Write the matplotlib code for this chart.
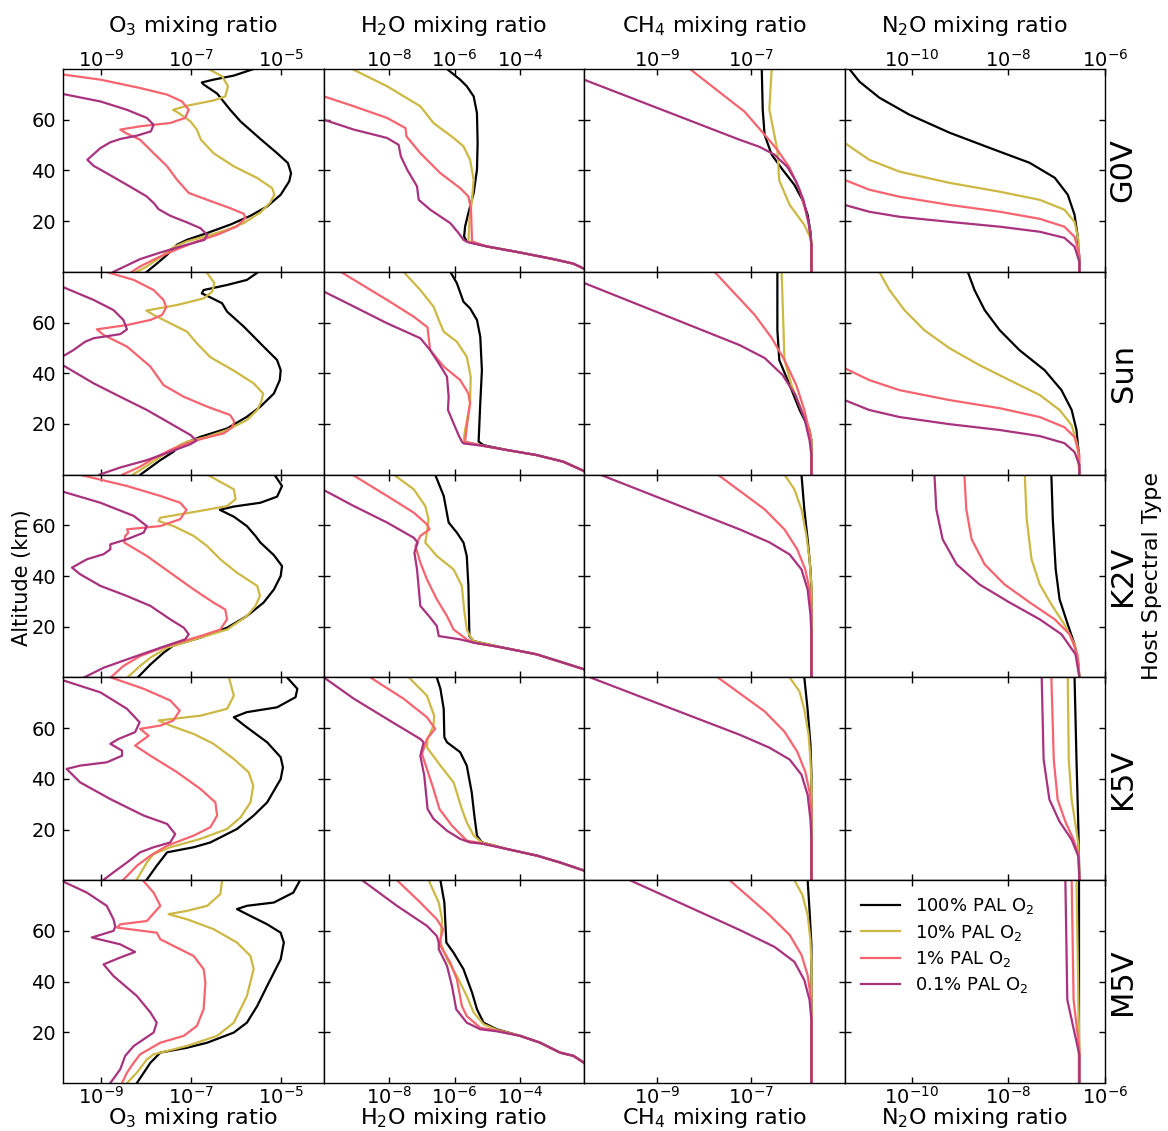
import numpy as np
import matplotlib
matplotlib.use('Agg')
import matplotlib.pyplot as plt
from matplotlib.ticker import FixedLocator, NullLocator, LogFormatterSciNotation

stars = ['G0V', 'Sun', 'K2V', 'K5V', 'M5V']
species = ['O$_3$', 'H$_2$O', 'CH$_4$', 'N$_2$O']
labels = ['100% PAL O$_2$', '10% PAL O$_2$', '1% PAL O$_2$', '0.1% PAL O$_2$']
colors = ['#000000', '#CDB843', '#F7636E', '#A8327E']
xlims_log = [(-9.84, -4.06), (-9.98, -2.07), (-10.54, -5.03), (-11.39, -6.0)]
xticks_log = [[-9, -7, -5], [-8, -6, -4], [-9, -7], [-10, -8, -6]]
yticks = [20, 40, 60]

# each profile: list of (altitude km, log10 mixing ratio); order 100%, 10%, 1%, 0.1% PAL
O3_G0V = [
    [(80,-5.61),(77.4,-6.05),(75.8,-6.50),(74.7,-6.76),(73.9,-6.72),(70.3,-6.42),(63.9,-6.13),(59.3,-5.90),(52.4,-5.46),(46.8,-5.09),(42.9,-4.85),(38.9,-4.78),(35.7,-4.82),(30.4,-5.01),(25.8,-5.31),(22.1,-5.68),(18.6,-6.13),(15.3,-6.64),(12.6,-7.09),(10.7,-7.31),(6.7,-7.53),(3.2,-7.76),(0,-7.98)],
    [(80,-6.61),(77.1,-6.31),(73.2,-6.18),(69.2,-6.24),(67.6,-6.50),(65.5,-7.09),(63.9,-7.40),(62.6,-7.27),(59.3,-7.01),(56.1,-6.87),(52.1,-6.78),(46.8,-6.50),(41.6,-6.05),(37.0,-5.53),(33.0,-5.20),(30.4,-5.15),(27.4,-5.24),(23.4,-5.46),(19.2,-5.83),(16.6,-6.20),(14.2,-6.64),(12.0,-7.09),(9.7,-7.39),(5.8,-7.68),(2.1,-7.98),(0,-8.20)],
    [(80,-10.1),(77.8,-9.83),(75.8,-9.01),(72.5,-8.13),(69.9,-7.53),(67.2,-7.20),(63.9,-7.05),(60.7,-7.13),(58.7,-7.46),(57.4,-8.13),(56.1,-8.57),(54.5,-8.42),(52.1,-8.13),(46.8,-7.83),(41.6,-7.53),(36.3,-7.31),(31.1,-7.05),(28.4,-6.64),(25.1,-6.13),(22.9,-5.83),(21.2,-5.79),(17.9,-5.98),(14.6,-6.42),(12.0,-6.87),(8.9,-7.31),(5.4,-7.76),(2.1,-8.13),(0,-8.31)],
    [(72.5,-10.3),(70.1,-9.83),(67.2,-9.01),(63.9,-8.42),(60.7,-7.98),(58.0,-7.83),(55.4,-7.89),(53.7,-8.20),(52.4,-8.57),(51.1,-8.79),(48.8,-9.01),(44.2,-9.30),(41.8,-9.16),(38.9,-8.87),(34.3,-8.42),(29.7,-7.98),(26.8,-7.81),(24.7,-7.72),(22.1,-7.46),(19.5,-7.09),(17.2,-6.79),(14.6,-6.64),(12.6,-6.70),(10.7,-7.09),(7.6,-7.68),(5.0,-8.13),(0,-8.72)],
]
O3_Sun = [
    [(80,-5.50),(76.8,-5.76),(74.8,-6.20),(72.8,-6.72),(71.5,-6.76),(69.9,-6.57),(67.6,-6.31),(64.3,-6.20),(58.4,-5.83),(50.5,-5.39),(45.2,-5.09),(41.2,-5.01),(37.3,-5.03),(32.0,-5.16),(26.8,-5.46),(22.8,-5.76),(18.2,-6.20),(14.9,-6.79),(11.6,-7.24),(9.0,-7.39),(5.7,-7.68),(0,-8.12)],
    [(80,-6.66),(75.5,-6.48),(72.2,-6.53),(69.5,-6.72),(66.9,-7.31),(64.7,-7.99),(63.0,-7.83),(59.7,-7.46),(56.4,-7.09),(51.8,-6.87),(46.3,-6.57),(41.0,-6.05),(36.0,-5.61),(32.0,-5.40),(28.8,-5.44),(25.5,-5.53),(21.5,-5.76),(17.6,-6.20),(14.9,-6.64),(13.0,-7.09),(10.3,-7.39),(7.0,-7.68),(3.1,-8.01),(0,-8.29)],
    [(80,-8.89),(76.8,-8.27),(72.8,-7.83),(68.9,-7.61),(66.0,-7.55),(63.0,-7.64),(61.0,-7.90),(59.0,-8.42),(57.3,-9.09),(55.1,-8.94),(50.5,-8.42),(42.6,-7.90),(35.3,-7.61),(30.7,-7.16),(26.8,-6.64),(23.5,-6.13),(20.9,-6.04),(18.6,-6.09),(16.3,-6.27),(14.3,-6.72),(12.3,-7.09),(9.7,-7.46),(6.4,-7.83),(3.1,-8.13),(0,-8.52)],
    [(77,-10.4),(73.9,-9.83),(68.9,-9.16),(64.9,-8.72),(61.0,-8.50),(57.3,-8.42),(55.4,-8.57),(53.8,-9.16),(52.4,-9.35),(49.1,-9.61),(46.8,-9.83),(45,-10.05),(43.0,-9.83),(36.0,-9.16),(30.7,-8.57),(25.5,-7.98),(20.2,-7.46),(15.6,-7.01),(13.4,-6.88),(12.0,-7.01),(9.0,-7.46),(5.7,-7.98),(2.8,-8.57),(0,-9.03)],
]
O3_K2V = [
    [(80,-5.15),(75.5,-4.98),(71.3,-5.09),(68.9,-5.46),(67.4,-6.05),(66.1,-6.36),(63.4,-6.05),(59.7,-5.76),(55.8,-5.57),(53.2,-5.46),(48.2,-5.16),(43.9,-4.98),(40.0,-5.01),(34.7,-5.16),(29.5,-5.39),(24.2,-5.76),(19.6,-6.20),(15.7,-6.79),(12.6,-7.39),(9.7,-7.61),(5.1,-7.90),(0,-8.18)],
    [(80,-6.64),(74.2,-6.05),(70.3,-6.01),(67.6,-6.20),(65.7,-6.79),(63.0,-7.68),(61.7,-7.72),(59.7,-7.39),(55.8,-6.94),(51.8,-6.64),(46.6,-6.35),(41.3,-5.98),(36.1,-5.53),(32.1,-5.47),(28.2,-5.57),(24.2,-5.76),(18.9,-6.20),(15.7,-6.79),(11.7,-7.53),(7.8,-7.90),(4.5,-8.13),(0,-8.41)],
    [(80,-9.48),(75.5,-8.42),(71.6,-7.68),(68.9,-7.24),(66.1,-7.10),(62.4,-7.24),(59.7,-7.68),(58.4,-8.42),(57.1,-8.39),(55.8,-8.46),(53.2,-8.48),(47.9,-7.98),(41.3,-7.46),(34.7,-6.94),(29.5,-6.50),(26.8,-6.24),(22.9,-6.20),(18.9,-6.35),(16.3,-6.79),(12.4,-7.53),(8.4,-8.13),(4.5,-8.50),(0,-8.78)],
    [(76,-10.3),(73.2,-9.83),(68.9,-9.01),(63.7,-8.27),(59.7,-7.98),(57.1,-8.05),(54.5,-8.42),(52.5,-8.79),(50.5,-8.79),(48.6,-8.94),(46.6,-9.31),(43.3,-9.64),(40.7,-9.46),(36.1,-9.01),(32.1,-8.42),(28.2,-7.90),(22.9,-7.46),(19.6,-7.16),(17.0,-7.05),(15.0,-7.13),(11.7,-7.68),(7.1,-8.42),(3.8,-8.94),(0,-9.37)],
]
O3_K5V = [
    [(80,-4.87),(75.5,-4.64),(72.2,-4.68),(68.2,-5.09),(66.3,-5.76),(64.3,-6.05),(60.3,-5.76),(54.4,-5.31),(48.5,-5.01),(44.5,-4.96),(39.9,-5.01),(30.7,-5.31),(25.5,-5.61),(20.2,-5.98),(14.9,-6.57),(13.0,-6.94),(11.0,-7.53),(5.7,-7.76),(0,-7.99)],
    [(80,-6.16),(72.8,-6.05),(67.6,-6.20),(64.9,-6.79),(63.0,-7.72),(61.0,-7.46),(57.7,-6.94),(53.8,-6.50),(47.8,-6.05),(42.6,-5.72),(37.3,-5.62),(30.7,-5.68),(24.8,-5.90),(20.2,-6.20),(16.3,-6.79),(13.0,-7.46),(10.3,-7.83),(7.0,-7.98),(0,-8.21)],
    [(80,-8.78),(75.5,-8.05),(70.9,-7.46),(66.9,-7.25),(63.0,-7.39),(61.0,-7.68),(59.7,-8.13),(57.0,-7.94),(53.1,-8.24),(49.1,-7.90),(42.6,-7.31),(36.0,-6.79),(30.7,-6.46),(25.5,-6.42),(20.9,-6.57),(17.6,-6.94),(13.6,-7.53),(9.7,-7.90),(5.7,-8.20),(0,-8.51)],
    [(81,-10.1),(78.8,-9.83),(74.1,-9.01),(67.6,-8.42),(62.3,-8.14),(58.4,-8.24),(55.7,-8.61),(53.8,-8.79),(51.1,-8.53),(49.1,-8.53),(46.5,-8.87),(45.2,-9.46),(43.9,-9.76),(38.6,-9.46),(32.0,-8.79),(25.5,-8.05),(22.2,-7.53),(18.2,-7.35),(14.9,-7.46),(13.0,-7.83),(11.0,-8.13),(7.0,-8.42),(3.1,-8.72),(0,-8.95)],
]
O3_M5V = [
    [(80,-4.58),(75.1,-4.73),(71.2,-5.16),(69.9,-5.76),(68.6,-5.98),(66.6,-5.76),(62.6,-5.31),(59.3,-5.01),(55.4,-4.94),(48.8,-5.01),(38.3,-5.31),(30.4,-5.53),(23.8,-5.76),(19.9,-6.05),(15.9,-6.64),(13.9,-7.09),(12.0,-7.68),(8.0,-7.90),(0,-8.20)],
    [(80,-6.31),(74.5,-6.35),(69.9,-6.64),(67.9,-7.09),(66.6,-7.50),(64.6,-7.09),(60.7,-6.50),(55.4,-5.98),(50.1,-5.68),(44.9,-5.61),(34.3,-5.76),(23.8,-6.05),(18.6,-6.42),(14.6,-7.09),(11.3,-7.83),(9.3,-7.98),(4.1,-8.20),(0,-8.42)],
    [(80,-8.07),(75.1,-7.83),(69.9,-7.68),(63.9,-7.98),(62.6,-8.57),(61.3,-8.64),(59.3,-7.76),(56.7,-7.68),(54.1,-7.39),(50.1,-6.94),(44.9,-6.72),(39.6,-6.68),(29.1,-6.72),(22.5,-6.87),(18.6,-7.16),(15.9,-7.68),(11.3,-8.13),(8.0,-8.27),(4.1,-8.42),(0,-8.53)],
    [(80,-9.90),(75.1,-9.31),(69.9,-8.87),(64.6,-8.72),(61.7,-8.68),(60.0,-8.72),(57.4,-9.20),(54.7,-8.57),(51.7,-8.24),(49.5,-8.57),(46.8,-8.94),(42.2,-8.72),(34.3,-8.20),(27.8,-7.90),(23.8,-7.76),(19.9,-7.83),(14.6,-8.27),(10.7,-8.46),(5.4,-8.57),(0,-8.79)],
]

H2O_G0V = [
    [(80,-6.23),(75.8,-5.83),(73.2,-5.63),(69.2,-5.42),(62.6,-5.32),(50.8,-5.30),(40.3,-5.32),(31.1,-5.42),(23.2,-5.58),(17.9,-5.68),(13.9,-5.71),(12.0,-5.63),(10.0,-5.02),(7.6,-4.01),(5.0,-3.00),(3.2,-2.39),(1.2,-2.07),(0,-1.9)],
    [(80,-9.11),(73.2,-8.05),(65.3,-7.04),(58.7,-6.64),(52.8,-6.03),(49.5,-5.73),(44.2,-5.53),(36.3,-5.42),(28.4,-5.47),(20.5,-5.55),(12.0,-5.58),(10.0,-5.02),(7.6,-4.01),(5.0,-3.00),(3.2,-2.39),(1.2,-2.07),(0,-1.9)],
    [(76,-10.7),(69.2,-9.97),(65.3,-9.06),(60.7,-8.05),(56.7,-7.49),(53.4,-7.46),(46.8,-7.04),(38.9,-6.43),(33.0,-5.83),(29.7,-5.58),(24.5,-5.50),(12.0,-5.47),(10.0,-5.02),(7.6,-4.01),(5.0,-3.00),(3.2,-2.39),(1.2,-2.07),(0,-1.9)],
    [(66,-10.7),(60.0,-9.97),(56.1,-9.06),(52.8,-8.05),(50.1,-7.70),(45.5,-7.63),(40.3,-7.44),(33.7,-7.14),(28.4,-7.09),(24.5,-6.74),(19.2,-6.13),(15.3,-5.88),(12.6,-5.73),(11.6,-5.58),(10.0,-5.02),(7.6,-4.01),(5.0,-3.00),(3.2,-2.39),(1.2,-2.07),(0,-1.9)],
]
H2O_Sun = [
    [(80,-6.13),(75.5,-5.93),(68.2,-5.73),(65.6,-5.53),(61.0,-5.32),(54.4,-5.22),(41.2,-5.17),(28.1,-5.22),(13.0,-5.27),(11.6,-5.12),(9.7,-4.41),(7.7,-3.51),(5.1,-2.70),(1.4,-2.07),(0,-1.9)],
    [(80,-7.55),(72.8,-7.04),(66.3,-6.64),(61.0,-6.48),(56.4,-6.33),(52.4,-5.93),(46.5,-5.63),(38.6,-5.51),(28.1,-5.53),(17.6,-5.68),(13.0,-5.73),(11.3,-5.12),(9.7,-4.41),(7.7,-3.51),(5.1,-2.70),(1.4,-2.07),(0,-1.9)],
    [(80,-9.46),(68.9,-8.05),(62.3,-7.24),(58.1,-6.82),(54.4,-6.79),(49.1,-6.74),(42.6,-6.33),(37.3,-5.83),(32.0,-5.58),(28.1,-5.53),(18.9,-5.63),(13.0,-5.68),(11.3,-5.12),(9.7,-4.41),(7.7,-3.51),(5.1,-2.70),(1.4,-2.07),(0,-1.9)],
    [(76,-10.5),(72.2,-9.97),(66.3,-9.06),(59.7,-8.05),(53.8,-7.04),(49.1,-6.74),(43.9,-6.48),(38.6,-6.23),(30.7,-6.18),(25.5,-6.20),(20.2,-6.03),(15.6,-5.88),(13.0,-5.78),(12.3,-5.73),(11.3,-5.12),(9.7,-4.41),(7.7,-3.51),(5.1,-2.70),(1.4,-2.07),(0,-1.9)],
]
H2O_K2V = [
    [(80,-6.59),(71.6,-6.33),(61.1,-6.18),(57.1,-5.93),(53.2,-5.73),(47.9,-5.63),(36.1,-5.58),(16.3,-5.55),(14.3,-5.42),(11.7,-4.52),(9.1,-3.51),(5.8,-2.70),(3.2,-2.07),(0,-1.7)],
    [(80,-7.85),(74.2,-7.24),(67.6,-6.89),(62.4,-6.79),(57.1,-6.84),(53.2,-6.89),(47.9,-6.54),(42.6,-6.03),(36.1,-5.78),(26.8,-5.71),(18.9,-5.63),(16.3,-5.53),(14.3,-5.42),(11.7,-4.52),(9.1,-3.51),(5.8,-2.70),(3.2,-2.07),(0,-1.7)],
    [(80,-9.11),(71.6,-8.05),(65.0,-7.24),(60.4,-6.84),(58.4,-6.76),(55.8,-7.04),(51.8,-7.19),(45.3,-7.04),(38.7,-6.84),(30.8,-6.54),(24.2,-6.23),(18.9,-6.03),(15.0,-5.63),(13.7,-5.42),(11.7,-4.52),(9.1,-3.51),(5.8,-2.70),(3.2,-2.07),(0,-1.7)],
    [(77.5,-10.5),(73.9,-9.97),(67.6,-9.06),(61.1,-8.05),(55.1,-7.24),(53.2,-7.12),(49.2,-7.22),(42.6,-7.14),(28.2,-7.04),(23.6,-6.74),(20.3,-6.54),(16.3,-6.48),(15.0,-5.83),(13.7,-5.42),(11.7,-4.52),(9.1,-3.51),(5.8,-2.70),(3.2,-2.07),(0,-1.7)],
]
H2O_K5V = [
    [(80,-6.54),(75.5,-6.43),(67.6,-6.33),(56.4,-6.31),(54.4,-6.23),(50.5,-5.83),(45.2,-5.63),(34.7,-5.48),(25.5,-5.40),(17.6,-5.32),(14.9,-5.17),(12.3,-4.41),(9.7,-3.50),(7.0,-2.80),(3.8,-2.07),(0,-1.6)],
    [(80,-7.39),(72.8,-6.84),(64.9,-6.62),(61.0,-6.64),(55.7,-6.82),(52.4,-6.84),(45.2,-6.43),(38.6,-6.03),(28.1,-5.78),(22.8,-5.63),(17.6,-5.42),(14.9,-5.17),(12.3,-4.41),(9.7,-3.50),(7.0,-2.80),(3.8,-2.07),(0,-1.6)],
    [(80,-8.56),(71.6,-7.55),(64.3,-6.84),(59.7,-6.59),(55.7,-6.84),(49.8,-6.99),(43.9,-6.84),(36.0,-6.64),(28.1,-6.46),(21.5,-6.08),(15.6,-5.63),(14.6,-5.17),(12.3,-4.41),(9.7,-3.50),(7.0,-2.80),(3.8,-2.07),(0,-1.6)],
    [(80,-9.97),(71.6,-9.06),(63.6,-8.05),(55.7,-7.04),(54.4,-6.94),(49.1,-7.04),(41.2,-6.92),(28.1,-6.82),(24.2,-6.64),(19.5,-6.23),(16.3,-5.83),(14.9,-5.53),(14.4,-5.17),(12.3,-4.41),(9.7,-3.50),(7.0,-2.80),(3.8,-2.07),(0,-1.6)],
]
H2O_M5V = [
    [(80,-6.43),(71.2,-6.31),(63.3,-6.28),(55.4,-6.25),(51.4,-6.03),(44.9,-5.73),(35.7,-5.47),(29.1,-5.32),(23.8,-5.12),(21.2,-4.72),(18.6,-4.01),(15.9,-3.40),(12.0,-2.80),(10.7,-2.39),(8.0,-2.07),(0,-1.5)],
    [(80,-6.79),(71.2,-6.48),(64.6,-6.38),(55.4,-6.43),(48.8,-6.23),(42.2,-5.93),(34.3,-5.63),(27.8,-5.42),(23.2,-5.12),(21.0,-4.72),(18.6,-4.01),(15.9,-3.40),(12.0,-2.80),(10.7,-2.39),(8.0,-2.07),(0,-1.5)],
    [(80,-7.75),(71.2,-7.04),(64.6,-6.54),(60.7,-6.35),(56.7,-6.43),(54.1,-6.43),(47.5,-6.13),(40.9,-5.93),(30.4,-5.78),(26.4,-5.63),(21.8,-5.22),(20.7,-4.72),(18.6,-4.01),(15.9,-3.40),(12.0,-2.80),(10.7,-2.39),(8.0,-2.07),(0,-1.5)],
    [(80,-8.81),(69.9,-7.75),(62.0,-6.84),(58.0,-6.54),(55.4,-6.48),(52.8,-6.48),(46.2,-6.23),(38.3,-6.08),(29.1,-5.95),(23.8,-5.63),(21.2,-5.22),(20.4,-4.72),(18.6,-4.01),(15.9,-3.40),(12.0,-2.80),(10.7,-2.39),(8.0,-2.07),(0,-1.5)],
]

CH4_G0V = [
    [(80,-6.78),(64,-6.76),(54,-6.72),(46.2,-6.57),(40.3,-6.34),(34.3,-6.09),(28.4,-5.92),(22.5,-5.81),(15.8,-5.75),(10.7,-5.73),(0,-5.73)],
    [(80,-6.57),(64,-6.62),(48,-6.45),(36,-6.41),(26.4,-6.19),(18.5,-5.88),(12.6,-5.73),(0,-5.73)],
    [(80,-8.30),(63.1,-7.14),(54.1,-6.72),(48.1,-6.45),(41.0,-6.19),(32.4,-5.98),(24.5,-5.86),(17.4,-5.77),(10.7,-5.73),(0,-5.73)],
    [(80,-11.3),(75.8,-10.54),(52.1,-7.25),(49.3,-6.83),(46.2,-6.51),(41.4,-6.24),(35.5,-6.05),(28.4,-5.90),(19.7,-5.79),(10.7,-5.73),(0,-5.73)],
]
CH4_Sun = [
    [(80,-6.45),(57,-6.45),(45.2,-6.41),(35.3,-6.19),(25.5,-5.98),(17.6,-5.77),(13.6,-5.73),(0,-5.73)],
    [(80,-6.36),(57,-6.32),(45.2,-6.30),(35.3,-6.15),(25.5,-5.94),(17.6,-5.77),(13.6,-5.73),(0,-5.73)],
    [(80,-7.78),(63.0,-6.93),(53.9,-6.57),(45.2,-6.30),(35.3,-6.05),(25.5,-5.88),(16.8,-5.77),(10.5,-5.73),(0,-5.73)],
    [(80,-11.3),(75.6,-10.54),(51.1,-7.25),(46.0,-6.72),(39.3,-6.34),(31.4,-6.07),(22.3,-5.88),(13.6,-5.77),(7.7,-5.73),(0,-5.73)],
]
CH4_K2V = [
    [(80,-5.94),(66.3,-5.88),(54.5,-5.81),(42.6,-5.75),(34.7,-5.73),(0,-5.73)],
    [(80,-6.30),(74.2,-6.09),(66.3,-5.94),(56.4,-5.84),(46.6,-5.77),(36.7,-5.73),(0,-5.73)],
    [(80,-7.71),(66.3,-6.72),(58.4,-6.30),(50.5,-6.03),(42.6,-5.86),(34.7,-5.77),(26.8,-5.73),(0,-5.73)],
    [(80,-10.20),(58.4,-7.25),(53.3,-6.62),(48.5,-6.19),(42.6,-5.94),(34.7,-5.81),(24.9,-5.75),(17.0,-5.73),(0,-5.73)],
]
CH4_K5V = [
    [(80,-5.88),(67.3,-5.81),(53.5,-5.75),(41.6,-5.73),(0,-5.73)],
    [(80,-6.19),(74.4,-5.98),(67.3,-5.88),(57.4,-5.79),(47.6,-5.75),(37.7,-5.73),(0,-5.73)],
    [(80,-7.71),(66.6,-6.72),(58.6,-6.30),(50.7,-6.03),(42.8,-5.86),(34.9,-5.77),(27.0,-5.73),(0,-5.73)],
    [(80,-10.41),(57.4,-7.25),(52.3,-6.62),(47.6,-6.19),(41.6,-5.94),(33.7,-5.81),(23.9,-5.75),(16.0,-5.73),(0,-5.73)],
]
CH4_M5V = [
    [(80,-5.81),(68.3,-5.77),(54.5,-5.73),(0,-5.73)],
    [(80,-6.09),(74.2,-5.92),(66.3,-5.81),(56.4,-5.75),(46.6,-5.73),(0,-5.73)],
    [(80,-7.46),(66.3,-6.62),(58.4,-6.19),(50.5,-5.94),(42.6,-5.81),(34.7,-5.75),(26.8,-5.73),(0,-5.73)],
    [(80,-9.57),(60.4,-7.25),(53.7,-6.51),(47.8,-6.09),(40.6,-5.88),(32.8,-5.77),(24.9,-5.73),(0,-5.73)],
]

N2O_G0V = [
    [(80,-11.29),(75.0,-11.08),(68.7,-10.67),(62.0,-10.05),(54.9,-9.22),(48.9,-8.39),(43.0,-7.56),(37.1,-7.04),(30.4,-6.77),(22.5,-6.63),(14.6,-6.57),(4.7,-6.53),(0,-6.53)],
    [(56,-12.2),(50.9,-11.39),(44.2,-10.88),(39.5,-10.25),(35.1,-9.22),(31.6,-8.18),(28.4,-7.35),(24.5,-6.84),(19.7,-6.63),(12.6,-6.55),(0,-6.53)],
    [(41,-12.2),(36.3,-11.39),(32.4,-10.88),(29.6,-10.25),(26.4,-9.22),(23.7,-8.18),(20.9,-7.35),(17.8,-6.84),(13.8,-6.63),(6.7,-6.53),(0,-6.53)],
    [(30,-12.2),(26.4,-11.39),(23.7,-10.88),(21.7,-10.25),(19.7,-9.22),(17.8,-8.18),(15.8,-7.35),(13.4,-6.84),(9.9,-6.63),(3.9,-6.53),(0,-6.53)],
]
N2O_Sun = [
    [(80,-8.84),(72.8,-8.70),(64.9,-8.49),(57.0,-8.18),(49.1,-7.77),(41.2,-7.25),(33.3,-6.90),(25.5,-6.69),(17.6,-6.59),(9.7,-6.55),(0,-6.53)],
    [(80,-10.67),(72.8,-10.46),(64.9,-10.15),(57.0,-9.74),(49.9,-9.22),(43.2,-8.60),(37.3,-7.98),(31.4,-7.35),(25.5,-6.94),(19.5,-6.69),(11.6,-6.57),(0,-6.53)],
    [(47,-12.2),(42.0,-11.39),(37.3,-10.88),(33.3,-10.25),(29.4,-9.22),(26.2,-8.18),(22.7,-7.35),(18.7,-6.84),(14.8,-6.63),(7.7,-6.53),(0,-6.53)],
    [(33,-12.2),(29.4,-11.39),(25.5,-10.88),(22.7,-10.25),(19.9,-9.22),(17.6,-8.18),(15.2,-7.35),(12.4,-6.84),(8.9,-6.63),(3.7,-6.53),(0,-6.53)],
]
N2O_K2V = [
    [(80,-7.11),(62.4,-7.08),(42.6,-7.02),(30.8,-6.94),(20.9,-6.77),(13.0,-6.63),(5.1,-6.55),(0,-6.53)],
    [(80,-7.66),(62.4,-7.62),(46.6,-7.52),(36.7,-7.35),(28.8,-7.11),(20.9,-6.84),(13.0,-6.63),(6.3,-6.55),(0,-6.53)],
    [(80,-8.91),(66.3,-8.87),(54.5,-8.76),(44.6,-8.49),(36.7,-8.08),(29.6,-7.56),(22.9,-7.04),(17.0,-6.73),(9.1,-6.57),(0,-6.53)],
    [(80,-9.53),(66.3,-9.49),(54.5,-9.36),(44.6,-9.07),(36.7,-8.60),(29.6,-7.98),(22.9,-7.35),(17.0,-6.90),(9.1,-6.61),(0,-6.53)],
]
N2O_K5V = [
    [(80,-6.63),(47.6,-6.59),(20,-6.55),(0,-6.53)],
    [(80,-6.77),(47.6,-6.75),(31.8,-6.69),(21.9,-6.61),(14.0,-6.55),(0,-6.53)],
    [(80,-7.11),(47.6,-7.06),(31.8,-6.98),(23.1,-6.82),(16.0,-6.65),(10.1,-6.55),(0,-6.53)],
    [(80,-7.31),(47.6,-7.27),(31.8,-7.15),(23.1,-6.94),(16.0,-6.69),(9.3,-6.55),(0,-6.53)],
]
N2O_M5V = [
    [(80,-6.53),(0,-6.53)],
    [(80,-6.59),(32.8,-6.55),(13,-6.53),(0,-6.53)],
    [(80,-6.69),(32.8,-6.65),(13,-6.53),(0,-6.53)],
    [(80,-6.82),(32.8,-6.78),(11,-6.53),(0,-6.53)],
]

panels = [
    [O3_G0V, H2O_G0V, CH4_G0V, N2O_G0V],
    [O3_Sun, H2O_Sun, CH4_Sun, N2O_Sun],
    [O3_K2V, H2O_K2V, CH4_K2V, N2O_K2V],
    [O3_K5V, H2O_K5V, CH4_K5V, N2O_K5V],
    [O3_M5V, H2O_M5V, CH4_M5V, N2O_M5V],
]

W, H = 1168, 1131
fig, axes = plt.subplots(5, 4, figsize=(W / 100, H / 100), dpi=100)
fig.subplots_adjust(left=63 / W, right=1105 / W, top=1 - 69 / H, bottom=1 - 1083 / H,
                    wspace=0, hspace=0)

for r in range(5):
    for c in range(4):
        ax = axes[r, c]
        for k, prof in enumerate(panels[r][c]):
            z = np.array([p[0] for p in prof])
            lx = np.array([p[1] for p in prof])
            ax.plot(10.0 ** lx, z, color=colors[k], lw=1.6, label=labels[k],
                    solid_joinstyle='round')
        ax.set_xscale('log')
        ax.set_xlim(10 ** xlims_log[c][0], 10 ** xlims_log[c][1])
        ax.set_ylim(0, 80)
        ax.xaxis.set_major_locator(FixedLocator([10.0 ** t for t in xticks_log[c]]))
        ax.xaxis.set_minor_locator(NullLocator())
        ax.xaxis.set_major_formatter(LogFormatterSciNotation())
        ax.set_yticks(yticks)
        ax.tick_params(axis='both', which='major', direction='in', length=4, width=1,
                       top=True, bottom=True, left=True, right=True,
                       labelleft=(c == 0), labelbottom=(r == 4), labeltop=(r == 0),
                       labelsize=14)
        ax.tick_params(axis='x', pad=(-1.5 if r == 0 else 2))
        ax.tick_params(axis='y', pad=5)
        if r == 0:
            ax.xaxis.set_label_position('top')
            ax.set_xlabel(species[c] + ' mixing ratio', fontsize=16, labelpad=12.5)
        if r == 4:
            ax.set_xlabel(species[c] + ' mixing ratio', fontsize=16, labelpad=-1)
        for s in ax.spines.values():
            s.set_linewidth(1.0)

for r in range(5):
    pos = axes[r, 3].get_position()
    fig.text(1123 / W, (pos.y0 + pos.y1) / 2, stars[r], rotation=90, fontsize=22,
             ha='center', va='center')

fig.text(1152 / W, 1 - 576 / H, 'Host Spectral Type', rotation=90, fontsize=16,
         ha='center', va='center')
fig.text(22 / W, 1 - 578 / H, 'Altitude (km)', rotation=90, fontsize=15,
         ha='center', va='center')

axes[4, 3].legend(loc='upper left', frameon=False, fontsize=13, handlelength=2.2,
                  borderaxespad=0.5, labelspacing=0.35)

fig.savefig('out.png', dpi=100)
